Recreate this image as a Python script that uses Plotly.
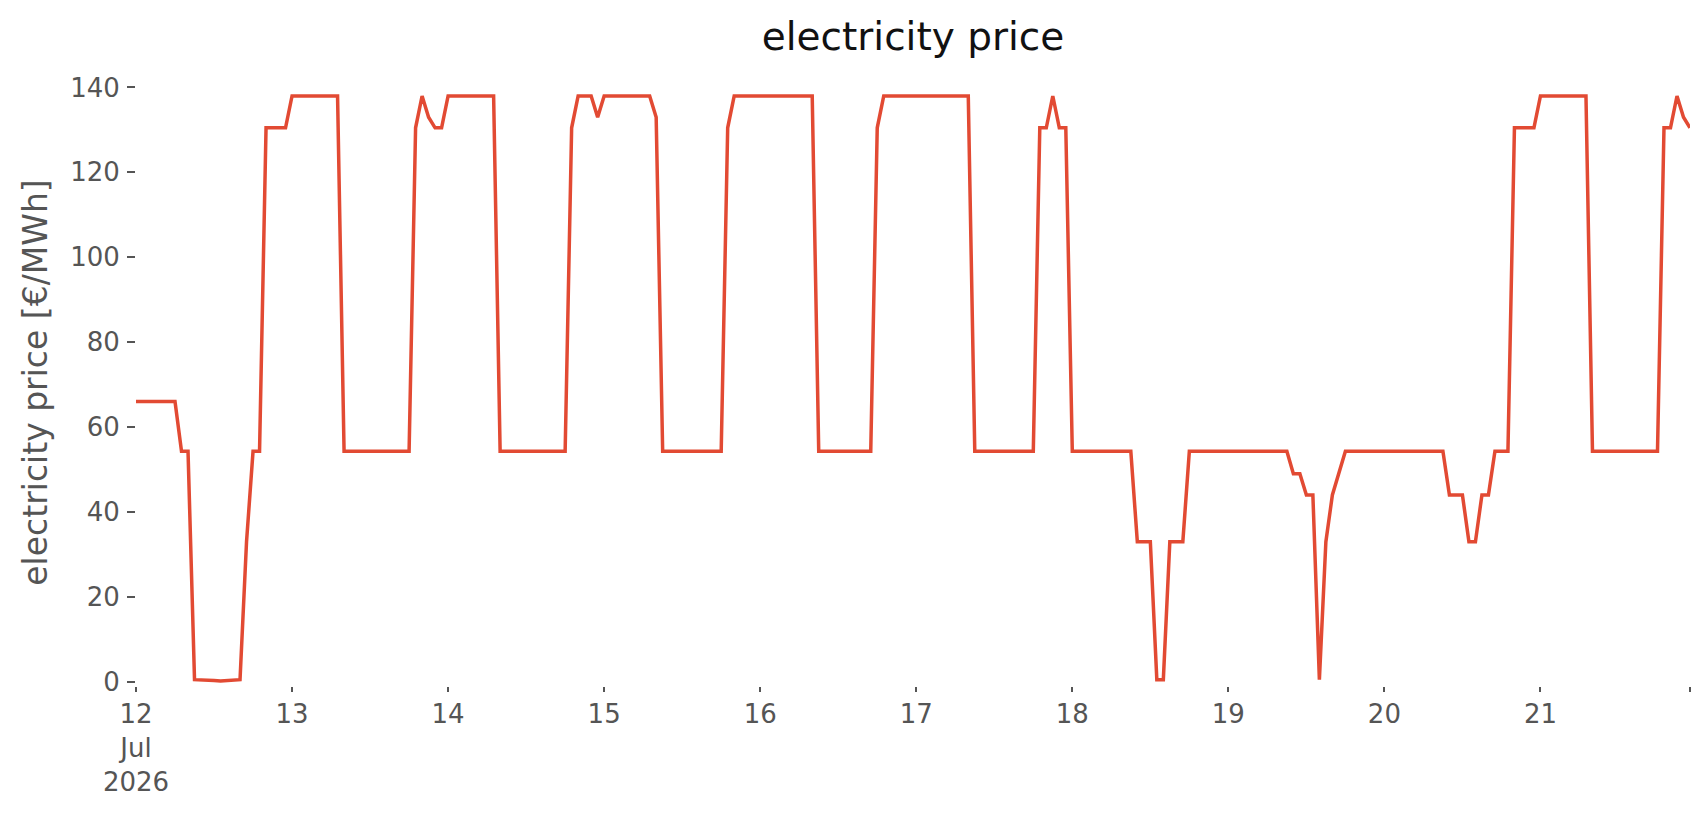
import pandas as pd
import plotly.graph_objects as go

# hourly day-ahead price, 12 Jul 2026 00:00 .. 21 Jul 2026 23:00
timestamps = pd.date_range("2026-07-12 00:00", periods=240, freq="h")

price = [
    # 12 Jul
    66, 66, 66, 66, 66, 66, 66, 54.3, 54.3, 0.5, 0.5, 0.5,
    0.3, 0.2, 0.3, 0.4, 0.5, 33, 54.3, 54.3, 130.5, 130.5, 130.5, 130.5,
    # 13 Jul
    138, 138, 138, 138, 138, 138, 138, 138, 54.3, 54.3, 54.3, 54.3,
    54.3, 54.3, 54.3, 54.3, 54.3, 54.3, 54.3, 130.5, 138, 133, 130.5, 130.5,
    # 14 Jul
    138, 138, 138, 138, 138, 138, 138, 138, 54.3, 54.3, 54.3, 54.3,
    54.3, 54.3, 54.3, 54.3, 54.3, 54.3, 54.3, 130.5, 138, 138, 138, 133,
    # 15 Jul
    138, 138, 138, 138, 138, 138, 138, 138, 133, 54.3, 54.3, 54.3,
    54.3, 54.3, 54.3, 54.3, 54.3, 54.3, 54.3, 130.5, 138, 138, 138, 138,
    # 16 Jul
    138, 138, 138, 138, 138, 138, 138, 138, 138, 54.3, 54.3, 54.3,
    54.3, 54.3, 54.3, 54.3, 54.3, 54.3, 130.5, 138, 138, 138, 138, 138,
    # 17 Jul
    138, 138, 138, 138, 138, 138, 138, 138, 138, 54.3, 54.3, 54.3,
    54.3, 54.3, 54.3, 54.3, 54.3, 54.3, 54.3, 130.5, 130.5, 138, 130.5, 130.5,
    # 18 Jul
    54.3, 54.3, 54.3, 54.3, 54.3, 54.3, 54.3, 54.3, 54.3, 54.3, 33, 33,
    33, 0.5, 0.5, 33, 33, 33, 54.3, 54.3, 54.3, 54.3, 54.3, 54.3,
    # 19 Jul
    54.3, 54.3, 54.3, 54.3, 54.3, 54.3, 54.3, 54.3, 54.3, 54.3, 49, 49,
    44, 44, 0.5, 33, 44, 49, 54.3, 54.3, 54.3, 54.3, 54.3, 54.3,
    # 20 Jul
    54.3, 54.3, 54.3, 54.3, 54.3, 54.3, 54.3, 54.3, 54.3, 54.3, 44, 44,
    44, 33, 33, 44, 44, 54.3, 54.3, 54.3, 130.5, 130.5, 130.5, 130.5,
    # 21 Jul
    138, 138, 138, 138, 138, 138, 138, 138, 54.3, 54.3, 54.3, 54.3,
    54.3, 54.3, 54.3, 54.3, 54.3, 54.3, 54.3, 130.5, 130.5, 138, 133, 130.5,
]

tick_days = pd.date_range("2026-07-12", "2026-07-21", freq="D")
tick_labels = ["12<br>Jul<br>2026", "13", "14", "15", "16", "17", "18", "19", "20", "21"]

fig = go.Figure()
fig.add_trace(go.Scatter(
    x=timestamps,
    y=price,
    mode="lines",
    line=dict(color="#E24A33", width=3.5),
    name="electricity price",
))

font = "DejaVu Sans, Liberation Sans, sans-serif"
fig.update_layout(
    width=1706,
    height=815,
    paper_bgcolor="white",
    plot_bgcolor="white",
    showlegend=False,
    margin=dict(l=128, r=24, t=71, b=137),
    font=dict(family=font, color="#555555", size=26),
    title=dict(
        text="electricity price",
        xref="paper",
        x=0.5,
        xanchor="center",
        y=0.965,
        yanchor="middle",
        font=dict(family=font, size=39, color="#111111"),
    ),
    xaxis=dict(
        range=[timestamps[0], timestamps[-1]],
        tickvals=list(tick_days) + [timestamps[-1]],
        ticktext=tick_labels + [""],
        ticks="outside",
        ticklen=5,
        tickwidth=1.5,
        tickcolor="#555555",
        showgrid=False,
        zeroline=False,
        showline=False,
        tickfont=dict(size=26),
    ),
    yaxis=dict(
        range=[-1, 142],
        tickvals=[0, 20, 40, 60, 80, 100, 120, 140],
        ticks="outside",
        ticklen=8,
        tickwidth=1.5,
        tickcolor="#555555",
        ticklabelstandoff=2,
        showgrid=False,
        zeroline=False,
        showline=False,
        tickfont=dict(size=26),
        title=dict(text="electricity price [€/MWh]", font=dict(size=33), standoff=12),
    ),
)

fig.write_html("out.html")
